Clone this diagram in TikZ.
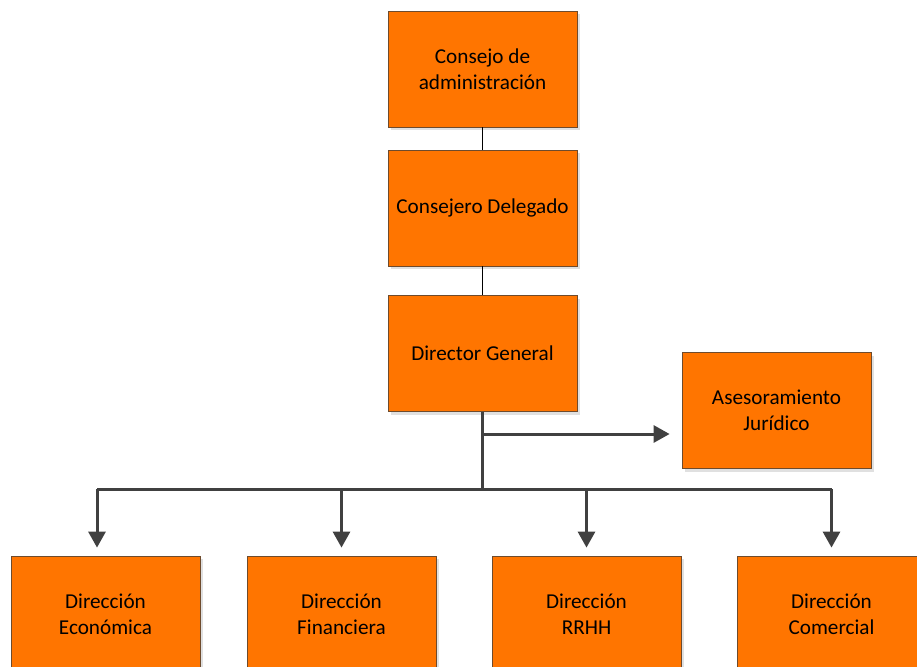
\documentclass[tikz,border=0pt]{standalone}
\usepackage{fontspec}
\setmainfont{Carlito}
\usetikzlibrary{arrows.meta,shadows}
\definecolor{boxorange}{RGB}{255,117,0}
\definecolor{boxedge}{RGB}{110,75,45}
\definecolor{linegray}{RGB}{64,64,64}
\begin{document}
\begin{tikzpicture}[x=1pt,y=-1pt,
  orgbox/.style={rectangle, fill=boxorange, draw=boxedge, line width=0.8pt,
    minimum width=189pt, minimum height=116pt, inner sep=0pt, align=center,
    font=\fontsize{21.2}{26}\selectfont, text=black,
    drop shadow={shadow xshift=3pt, shadow yshift=-3pt, fill=black!12, opacity=1}},
  thinlink/.style={draw=black, line width=1pt},
  buslink/.style={draw=linegray, line width=3pt},
  arrlink/.style={draw=linegray, line width=3pt,
    -{Triangle[width=17pt,length=16pt]}}
]
\useasboundingbox (0,0) rectangle (917,666);
\begin{scope}
\clip (0,0) rectangle (917,666);
\node[orgbox] (cda) at (482.5,69) {Consejo de\\administración};
\node[orgbox] (cd) at (482.5,208) {Consejero Delegado};
\node[orgbox] (dg) at (482.5,353.5) {Director General};
\node[orgbox] (aj) at (776.5,410.5) {Asesoramiento\\Jurídico};
\node[orgbox] (de) at (105.5,614) {Dirección\\Económica};
\node[orgbox] (df) at (341.5,614) {Dirección\\Financiera};
\node[orgbox] (dr) at (586.5,614) {Dirección\\RRHH};
\node[orgbox] (dc) at (831.5,614) {Dirección\\Comercial};

\coordinate (bus) at (482.5,489);
\coordinate (buswest) at (97,489);
\coordinate (ajsplit) at (482.5,434);

\draw[thinlink] (cda) -- (cd);
\draw[thinlink] (cd) -- (dg);

\draw[buslink] (dg.south) -- (bus);
\draw[buslink] (buswest) -- (bus -| dc.north);
\draw[arrlink, shorten >=12pt] (ajsplit) -- (ajsplit -| aj.west);
\draw[arrlink, shorten >=8pt] (buswest) -- (buswest |- de.north);
\draw[arrlink, shorten >=8pt] (bus -| df.north) -- (df.north);
\draw[arrlink, shorten >=8pt] (bus -| dr.north) -- (dr.north);
\draw[arrlink, shorten >=8pt] (bus -| dc.north) -- (dc.north);
\end{scope}
\end{tikzpicture}
\end{document}
